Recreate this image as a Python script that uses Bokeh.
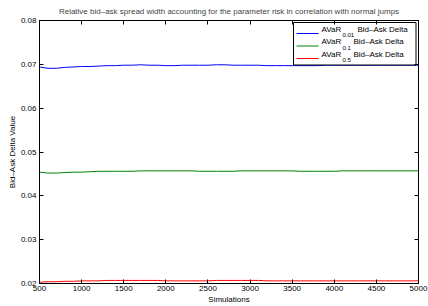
from bokeh.plotting import figure
from bokeh.models import LinearAxis, Range1d, Label, FixedTicker, CustomJSTickFormatter
from bokeh.embed import file_html
from bokeh.resources import INLINE

simulations = [500, 600, 700, 800, 900, 1000, 1100, 1200, 1300, 1400,
               1500, 1600, 1700, 1800, 1900, 2000, 2100, 2200, 2300, 2400,
               2500, 2600, 2700, 2800, 2900, 3000, 3100, 3200, 3300, 3400,
               3500, 3600, 3700, 3800, 3900, 4000, 4100, 4200, 4300, 4400,
               4500, 4600, 4700, 4800, 4900, 5000]
avar_001 = [0.0694, 0.0691, 0.0691, 0.0693, 0.0694, 0.0695, 0.0695, 0.0696, 0.0697, 0.0697,
            0.0698, 0.0698, 0.0699, 0.0698, 0.0698, 0.0697, 0.0697, 0.0698, 0.0698, 0.0698,
            0.0698, 0.0699, 0.0699, 0.0698, 0.0698, 0.0698, 0.0698, 0.0697, 0.0697, 0.0697,
            0.0697, 0.0697, 0.0697, 0.0697, 0.0698, 0.0698, 0.0698, 0.0698, 0.0698, 0.0698,
            0.0698, 0.0698, 0.0698, 0.0698, 0.0698, 0.0698]
avar_01 = [0.0454, 0.0452, 0.0452, 0.0453, 0.0454, 0.0454, 0.0455, 0.0456, 0.0456, 0.0456,
           0.0456, 0.0456, 0.0457, 0.0457, 0.0457, 0.0457, 0.0457, 0.0457, 0.0457, 0.0456,
           0.0456, 0.0456, 0.0456, 0.0456, 0.0457, 0.0457, 0.0457, 0.0457, 0.0457, 0.0457,
           0.0457, 0.0456, 0.0456, 0.0456, 0.0456, 0.0456, 0.0457, 0.0457, 0.0457, 0.0457,
           0.0457, 0.0457, 0.0457, 0.0457, 0.0457, 0.0457]
avar_05 = [0.0203, 0.0204, 0.0204, 0.0205, 0.0205, 0.0206, 0.0206, 0.0206, 0.0207, 0.0207,
           0.0207, 0.0207, 0.0207, 0.0207, 0.0207, 0.0206, 0.0206, 0.0206, 0.0206, 0.0206,
           0.0206, 0.0207, 0.0207, 0.0207, 0.0207, 0.0207, 0.0207, 0.0206, 0.0206, 0.0206,
           0.0206, 0.0206, 0.0206, 0.0206, 0.0206, 0.0206, 0.0206, 0.0206, 0.0206, 0.0206,
           0.0206, 0.0206, 0.0206, 0.0206, 0.0206, 0.0206]
x_ticks = [500, 1000, 1500, 2000, 2500, 3000, 3500, 4000, 4500, 5000]
y_ticks = [0.02, 0.03, 0.04, 0.05, 0.06, 0.07, 0.08]
series_names = ["0.01", "0.1", "0.5"]
series_colors = ["#0000ff", "#008000", "#ff0000"]
title_text = "Relative bid\u2013ask spread width accounting for the parameter risk in correlation with normal jumps"

XMIN, XMAX = 500, 5000
YMIN, YMAX = 0.02, 0.08
FONT = "Liberation Sans"

# frame placement in page pixels
FX0, FX1, FY0, FY1 = 39, 418, 20, 283
W, H = 428, 306

p = figure(width=W, height=H, output_backend="svg", toolbar_location=None,
           x_range=Range1d(XMIN, XMAX), y_range=Range1d(YMIN, YMAX),
           min_border_left=FX0, min_border_right=W - FX1, min_border_top=FY0,
           min_border_bottom=H - FY1,
           background_fill_color="white", border_fill_color="white")
p.grid.visible = False
p.outline_line_color = "black"
p.outline_line_width = 1

p.title.text = title_text
p.title.text_font = FONT
p.title.text_font_size = "8px"
p.title.text_font_style = "normal"
p.title.align = "center"
p.title.standoff = 9
p.title.offset = 0

def style_axis(ax, ticks, labels=True):
    ax.ticker = FixedTicker(ticks=ticks)
    ax.major_tick_in = 4
    ax.major_tick_out = 0
    ax.minor_tick_in = 0
    ax.minor_tick_out = 0
    ax.axis_line_color = "black"
    ax.major_tick_line_color = "black"
    ax.major_label_text_font = FONT
    ax.major_label_text_font_size = "8px"
    ax.major_label_text_color = "black"
    ax.major_label_standoff = 3 if labels else 0
    ax.axis_label_text_font = FONT
    ax.axis_label_text_font_size = "8px"
    ax.axis_label_text_font_style = "normal"
    ax.axis_label_text_color = "black"
    ax.axis_label_standoff = 1
    if not labels:
        ax.formatter = CustomJSTickFormatter(code="return '';")

style_axis(p.xaxis[0], x_ticks)
style_axis(p.yaxis[0], y_ticks)
p.xaxis[0].axis_label = "Simulations"
p.yaxis[0].axis_label = "Bid\u2013Ask Delta Value"
p.xaxis[0].major_label_standoff = 2
p.yaxis[0].major_label_standoff = 3
p.yaxis[0].axis_label_standoff = 1

top = LinearAxis()
right = LinearAxis()
p.add_layout(top, "above")
p.add_layout(right, "right")
style_axis(top, x_ticks, labels=False)
style_axis(right, y_ticks, labels=False)

for ys, c in zip([avar_001, avar_01, avar_05], series_colors):
    p.line(simulations, ys, line_color=c, line_width=1)

# legend (positions in page pixels converted to data units)
def px2x(px):
    return XMIN + (px - FX0) / (FX1 - FX0) * (XMAX - XMIN)
def py2y(py):
    return YMAX - (py - FY0) / (FY1 - FY0) * (YMAX - YMIN)

p.quad(left=[px2x(293)], right=[px2x(415.5)], top=[py2y(22)], bottom=[py2y(64.5)],
       fill_color="white", fill_alpha=1, line_color="black", line_width=1)

rows = [33, 45.5, 58]
bid_x = [357, 353, 353]
p.segment(x0=[px2x(296)] * 3, y0=[py2y(r) for r in rows],
          x1=[px2x(318)] * 3, y1=[py2y(r) for r in rows],
          line_color=series_colors, line_width=1)
for i, name in enumerate(series_names):
    ry = rows[i]
    p.add_layout(Label(x=px2x(321), y=py2y(ry - 4.5), text="AVaR", text_font=FONT,
                       text_font_size="8px", text_baseline="middle", text_align="left",
                       text_color="black"))
    p.add_layout(Label(x=px2x(342), y=py2y(ry + 1.5), text=name, text_font=FONT,
                       text_font_size="6px", text_baseline="middle", text_align="left",
                       text_color="black"))
    p.add_layout(Label(x=px2x(bid_x[i]), y=py2y(ry - 4.5), text="Bid\u2013Ask Delta",
                       text_font=FONT, text_font_size="8px", text_baseline="middle",
                       text_align="left", text_color="black"))

open("out.html", "w").write(file_html(p, INLINE))
